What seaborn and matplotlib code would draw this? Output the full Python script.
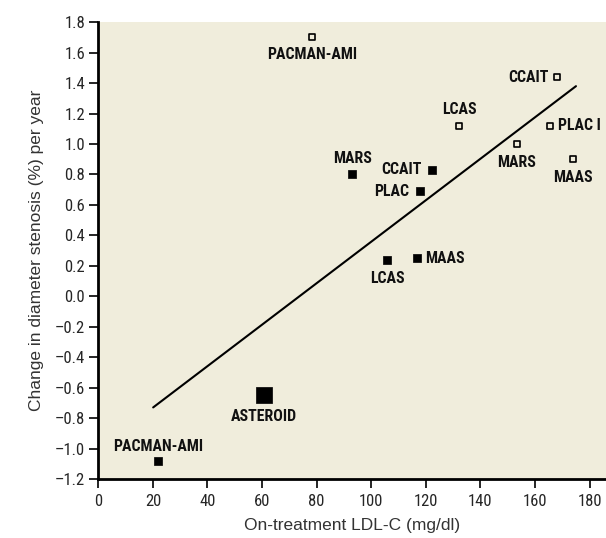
import matplotlib
matplotlib.use("Agg")
import matplotlib.pyplot as plt
import seaborn as sns
import pandas as pd

# Trial results: on-treatment LDL-C vs yearly change in diameter stenosis
trials = ["PACMAN-AMI", "ASTEROID", "MARS", "CCAIT", "PLAC", "LCAS", "MAAS",
          "PACMAN-AMI", "CCAIT", "LCAS", "PLAC I", "MARS", "MAAS"]
ldl = [22.0, 60.8, 93.0, 122.1, 117.8, 105.9, 116.6,
       78.4, 167.9, 132.2, 165.5, 153.3, 174.0]
stenosis = [-1.08, -0.65, 0.80, 0.83, 0.69, 0.24, 0.25,
            1.70, 1.44, 1.12, 1.12, 1.00, 0.90]
arm = ["statin"] * 7 + ["control"] * 6
big = [False, True] + [False] * 11

# Regression line end points
fit_x = [20.1, 175.0]
fit_y = [-0.73, 1.38]

x_ticks = list(range(0, 181, 20))
y_ticks = [-1.2, -1.0, -0.8, -0.6, -0.4, -0.2, 0.0, 0.2, 0.4, 0.6, 0.8, 1.0,
           1.2, 1.4, 1.6, 1.8]

# label placement: (dx, dy) offset in pixels and horizontal alignment
placement = [
    (0, 14, "center"),
    (0, -21, "center"),
    (0, 16, "center"),
    (-10, 0, "right"),
    (-11, 0, "right"),
    (0, -19, "center"),
    (9, 0, "left"),
    (0, -17, "center"),
    (-8, 0, "right"),
    (0, 16, "center"),
    (8, 0, "left"),
    (0, -18, "center"),
    (0, -18, "center"),
]

df = pd.DataFrame({"trial": trials, "ldl": ldl, "stenosis": stenosis,
                   "arm": arm, "big": big})

sns.set_theme(style="ticks")
narrow = ["Roboto Condensed", "DejaVu Sans"]
plt.rcParams["font.family"] = ["Liberation Sans", "DejaVu Sans"]
plt.rcParams["axes.unicode_minus"] = True

bg = "#F0EDDC"
fig = plt.figure(figsize=(6.06, 5.38), dpi=100)
ax = fig.add_axes([0.1622, 0.1097, 0.8378, 0.849])
ax.set_facecolor(bg)

sns.lineplot(x=fit_x, y=fit_y, ax=ax, color="black", lw=1.5)

small = df[~df["big"]]
sns.scatterplot(data=small[small["arm"] == "statin"], x="ldl", y="stenosis", ax=ax,
                marker="s", s=28, color="black", edgecolor="black", linewidth=0.5,
                zorder=3)
sns.scatterplot(data=small[small["arm"] == "control"], x="ldl", y="stenosis", ax=ax,
                marker="s", s=24, facecolor=bg, edgecolor="black", linewidth=1.2,
                zorder=3)
sns.scatterplot(data=df[df["big"]], x="ldl", y="stenosis", ax=ax,
                marker="s", s=140, color="black", edgecolor="black", linewidth=0.5,
                zorder=3)

px = 0.72
for i, row in df.iterrows():
    dx, dy, ha = placement[i]
    ax.annotate(row["trial"], (row["ldl"], row["stenosis"]),
                xytext=(dx * px, dy * px), textcoords="offset points",
                ha=ha, va="center", fontsize=11.4, fontweight="bold",
                family=narrow, color="#111111", annotation_clip=False)

ax.set_xlim(0, 186)
ax.set_ylim(-1.2, 1.8)
ax.set_xticks(x_ticks)
ax.set_yticks(y_ticks)
ax.set_xticklabels([str(v) for v in x_ticks], family=narrow, fontsize=12)
ax.set_yticklabels([f"{v:.1f}".replace("-", "\u2013") for v in y_ticks],
                   family=narrow, fontsize=12)
ax.tick_params(direction="out", length=6.5, width=1.2, color="black")
ax.tick_params(axis="x", pad=4)
ax.tick_params(axis="y", pad=3)

for side in ("top", "right"):
    ax.spines[side].set_visible(False)
for side in ("left", "bottom"):
    ax.spines[side].set_linewidth(2)
    ax.spines[side].set_color("black")

ax.set_xlabel("On-treatment LDL-C (mg/dl)", fontsize=12.5, color="#333333",
              labelpad=7)
ax.set_ylabel("Change in diameter stenosis (%) per year", fontsize=12.5,
              color="#333333", labelpad=8)

fig.savefig("out.png", dpi=100, facecolor="white")
